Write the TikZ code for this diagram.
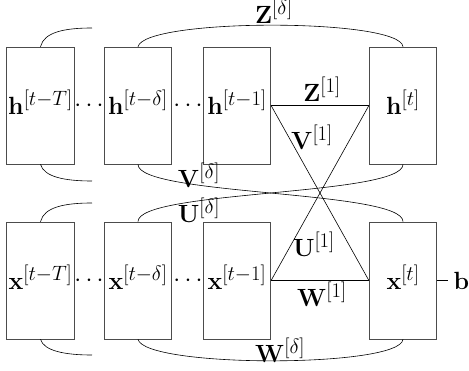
\documentclass[tikz,border=0pt]{standalone}
\begin{document}
\begin{tikzpicture}[x=1pt,y=-1pt,
  box/.style={draw=black!70, line width=0.7pt, minimum width=67.5pt, minimum height=117pt, inner sep=0pt},
  wire/.style={line width=0.6pt},
  lab/.style={inner sep=0pt, font=\fontsize{24.88}{30}\selectfont, anchor=base}]
\useasboundingbox (0,0) rectangle (469,371);
% boxes
\node[box] (h1) at (40.5,105.5) {};
\node[box] (h2) at (138,105.5) {};
\node[box] (h3) at (237,105.5) {};
\node[box] (h4) at (403,105.5) {};
\node[box] (x1) at (40.5,280.5) {};
\node[box] (x2) at (138,280.5) {};
\node[box] (x3) at (237,280.5) {};
\node[box] (x4) at (403,280.5) {};
% box labels
\node[lab] (lh1) at (40.5,115) {$\mathbf{h}^{[t-T]}$};
\node[lab] (lh2) at (138,115) {$\mathbf{h}^{[t-\delta]}$};
\node[lab] (lh3) at (237,115) {$\mathbf{h}^{[t-1]}$};
\node[lab] (lh4) at (403,115) {$\mathbf{h}^{[t]}$};
\node[lab] (lx1) at (40.5,290) {$\mathbf{x}^{[t-T]}$};
\node[lab] (lx2) at (138,290) {$\mathbf{x}^{[t-\delta]}$};
\node[lab] (lx3) at (237,290) {$\mathbf{x}^{[t-1]}$};
\node[lab] (lx4) at (403,290) {$\mathbf{x}^{[t]}$};
% dots
\node[lab] (dh1) at (89,112) {$\cdots$};
\node[lab] (dh2) at (188,112) {$\cdots$};
\node[lab] (dx1) at (89,287) {$\cdots$};
\node[lab] (dx2) at (188,287) {$\cdots$};
% free ends
\coordinate (s1) at (92,28);
\coordinate (s2) at (92,181);
\coordinate (s3) at (92,203);
\coordinate (s4) at (92,355);
\coordinate (bend) at (448,280.5);
% stubs
\draw[wire] (h1.north) .. controls (44,32) and (65,28) .. (s1);
\draw[wire] (h1.south) .. controls (44,177) and (65,181) .. (s2);
\draw[wire] (x1.north) .. controls (44,207) and (65,203) .. (s3);
\draw[wire] (x1.south) .. controls (44,351) and (65,355) .. (s4);
% long arcs
\draw[wire] (h2.north) .. controls (145,18) and (400,18) .. (h4.north);
\draw[wire] (x2.south) .. controls (145,368) and (400,368) .. (x4.south);
\draw[wire] (h2.south) .. controls (138,196) and (403,190) .. (x4.north);
\draw[wire] (x2.north) .. controls (138,190) and (403,196) .. (h4.south);
% triangles
\draw[wire] (h3.east) -- (h4.west);
\draw[wire] (x3.east) -- (x4.west);
\draw[wire] (h3.east) -- (x4.west);
\draw[wire] (x3.east) -- (h4.west);
\draw[wire] (x4.east) -- (bend);
% weight labels
\node[lab] (zd) at (274,24) {$\mathbf{Z}^{[\delta]}$};
\node[lab] (z1) at (322,102) {$\mathbf{Z}^{[1]}$};
\node[lab] (v1) at (312,150) {$\mathbf{V}^{[1]}$};
\node[lab] (vd) at (199,188) {$\mathbf{V}^{[\delta]}$};
\node[lab] (ud) at (199,223) {$\mathbf{U}^{[\delta]}$};
\node[lab] (u1) at (314,257) {$\mathbf{U}^{[1]}$};
\node[lab] (w1) at (322,307) {$\mathbf{W}^{[1]}$};
\node[lab] (wd) at (280,363) {$\mathbf{W}^{[\delta]}$};
\node[lab] (b) at (461.5,290) {$\mathbf{b}$};
\end{tikzpicture}
\end{document}
